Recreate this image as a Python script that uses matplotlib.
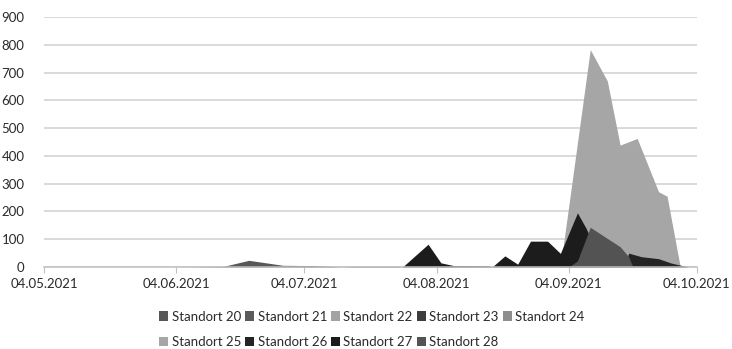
import matplotlib
matplotlib.use("Agg")
import matplotlib.pyplot as plt
import matplotlib.dates as mdates
from matplotlib.patches import Patch
import pandas as pd

plt.rcParams['font.family'] = ['Lato', 'DejaVu Sans']

# Tageswerte je Standort (Datum, Wert)
s20_dates = ['2021-06-06', '2021-06-15', '2021-06-21', '2021-06-29', '2021-07-06',
             '2021-07-13', '2021-07-15', '2021-07-26', '2021-07-27']
s20_vals = [0, 2, 24, 6, 5, 0, 2, 2, 0]

s21_dates = ['2021-05-04', '2021-10-04']
s21_vals = [0, 0]

s22_dates = ['2021-05-04', '2021-10-04']
s22_vals = [0, 0]

s23_dates = ['2021-05-04', '2021-10-04']
s23_vals = [0, 0]

s24_dates = ['2021-09-02', '2021-09-06', '2021-09-09', '2021-09-12']
s24_vals = [0, 400, 100, 0]

s25_dates = ['2021-09-02', '2021-09-09', '2021-09-13', '2021-09-16', '2021-09-20',
             '2021-09-25', '2021-09-27', '2021-09-30', '2021-10-01']
s25_vals = [0, 783, 670, 439, 463, 271, 255, 7, 0]

s26_dates = ['2021-09-17', '2021-09-18', '2021-09-21', '2021-09-25', '2021-09-28', '2021-10-02']
s26_vals = [0, 50, 37, 30, 14, 0]

s27_dates = ['2021-07-27', '2021-08-02', '2021-08-05', '2021-08-08', '2021-08-16',
             '2021-08-17', '2021-08-20', '2021-08-23', '2021-08-26', '2021-08-30',
             '2021-09-02', '2021-09-06', '2021-09-08', '2021-09-11', '2021-09-14',
             '2021-09-17']
s27_vals = [0, 82, 15, 5, 4, 0, 40, 10, 93, 93, 49, 195, 140, 40, 10, 0]

s28_dates = ['2021-09-04', '2021-09-06', '2021-09-09', '2021-09-16', '2021-09-18', '2021-09-19']
s28_vals = [0, 22, 143, 73, 37, 0]

names = ['Standort 20', 'Standort 21', 'Standort 22', 'Standort 23', 'Standort 24',
         'Standort 25', 'Standort 26', 'Standort 27', 'Standort 28']
colors = ['#575757', '#5a5a5a', '#a2a2a2', '#3c3c3c', '#8e8e8e',
          '#a6a6a6', '#242424', '#1c1c1c', '#535353']
series = [(s20_dates, s20_vals), (s21_dates, s21_vals), (s22_dates, s22_vals),
          (s23_dates, s23_vals), (s24_dates, s24_vals), (s25_dates, s25_vals),
          (s26_dates, s26_vals), (s27_dates, s27_vals), (s28_dates, s28_vals)]

tick_dates = ['2021-05-04', '2021-06-04', '2021-07-04', '2021-08-04', '2021-09-04', '2021-10-04']

fig = plt.figure(figsize=(7.32, 3.49), dpi=100)
ax = fig.add_axes([0.0601, 0.235, 0.892, 0.716])

for (d, v), c in zip(series, colors):
    ax.fill_between(pd.to_datetime(d), v, 0, color=c, linewidth=0, zorder=2)

ax.set_ylim(0, 900)
ax.set_yticks(range(0, 901, 100))
ax.set_xlim(pd.Timestamp('2021-05-04'), pd.Timestamp('2021-10-04'))
ax.set_xticks(pd.to_datetime(tick_dates))
ax.xaxis.set_major_formatter(mdates.DateFormatter('%d.%m.%Y'))

ax.grid(axis='y', color='#d0d0d0', linewidth=1.1, zorder=0)
ax.set_axisbelow(True)
for side in ['left', 'right', 'top']:
    ax.spines[side].set_visible(False)
ax.spines['bottom'].set_color('#c0c0c0')
ax.spines['bottom'].set_linewidth(1.1)
ax.tick_params(axis='y', length=0, pad=14, labelsize=9.5, labelcolor='#2a2a2a')
ax.tick_params(axis='x', length=4, color='#c0c0c0', pad=4, labelsize=9.5, labelcolor='#2a2a2a')

# zwei Legendenzeilen: Reihenfolge spaltenweise
order = [0, 5, 1, 6, 2, 7, 3, 8, 4]
handles = [Patch(facecolor=colors[i], edgecolor='none', label=names[i]) for i in order]
fig.legend(handles=handles, loc='center', bbox_to_anchor=(0.508, 0.056), ncol=5,
           frameon=False, fontsize=9.5, handlelength=0.7, handleheight=0.7,
           handletextpad=0.25, columnspacing=0.3, labelspacing=1.05,
           labelcolor='#2a2a2a')

fig.savefig('out.png', dpi=100)
